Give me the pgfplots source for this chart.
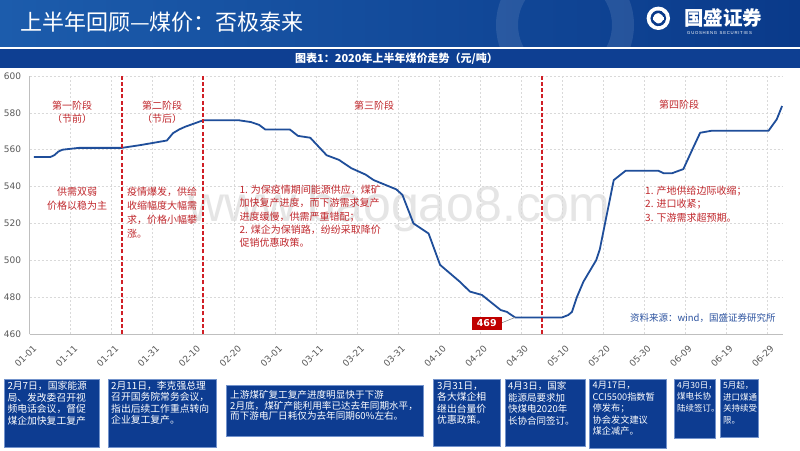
\documentclass[border=0pt]{standalone}
\usepackage{pgfplots}
\pgfplotsset{compat=1.18}
\usepackage{fontspec}
\setmainfont{Noto Sans CJK SC}
\newfontfamily\dv{DejaVu Sans}
\newfontfamily\lib{Liberation Sans}
\definecolor{hdrL}{HTML}{1C5CAC}
\definecolor{hdrR}{HTML}{0A3A8A}
\definecolor{hdrBar}{HTML}{0E3F92}
\definecolor{boxfill}{HTML}{0D3C91}
\definecolor{boxline}{HTML}{7393CC}
\definecolor{curve}{HTML}{1F4E9A}
\definecolor{redtxt}{HTML}{C0282D}
\definecolor{vred}{HTML}{D01F26}
\definecolor{labred}{HTML}{C00000}
\definecolor{gridgray}{HTML}{D9D9D9}
\definecolor{axisgray}{HTML}{BFBFBF}
\definecolor{ticktext}{HTML}{595959}
\definecolor{srcblue}{HTML}{2E54A0}
\begin{document}
\begin{tikzpicture}
\begin{scope}[x=1pt,y=1pt]
\path[use as bounding box] (0,0) rectangle (800,450);
\fill[white] (0,0) rectangle (800,450);
% header
\shade[left color=hdrL, right color=hdrR] (0,403.5) rectangle (800,450);
\begin{scope}
\clip (0,403.5) rectangle (800,450);
\draw[white, opacity=0.10, line width=22pt] (565,425) circle (58);
\end{scope}
\fill[hdrBar] (0,382) rectangle (800,401.2);
\node[anchor=west, inner sep=0, text=white, font=\fontsize{22}{26}\selectfont] at (20,427.5) {上半年回顾—煤价：否极泰来};
\fill[white] (658.3,431.7) circle (11.7);
\draw[hdrR, line width=2.6pt] (658.3,431.7) ++(60:6.5) arc (60:250:6.5);
\draw[hdrR, line width=2.6pt] (658.3,431.7) ++(240:6.5) arc (240:430:6.5);
\fill[white] (653,430.3) rectangle (663.6,433.1);
\node[anchor=west, inner sep=0, text=white, font=\fontsize{19.5}{22}\selectfont\bfseries] at (684,432) {国盛证券};
\node[anchor=west, inner sep=0, text=white, font=\lib\fontsize{4.3}{5}\selectfont] at (687,416.7) {G\,U\,O\,S\,H\,E\,N\,G\ \ S\,E\,C\,U\,R\,I\,T\,I\,E\,S};
\node[inner sep=0, text=white, font=\fontsize{11}{13}\selectfont\bfseries] at (396.5,391) {图表1：2020年上半年煤价走势（元/吨）};
% watermark
\node[anchor=base west, inner sep=0, text=black!10, font=\lib\fontsize{50}{52}\selectfont] at (188,228.3) {www.baogao8.com};
\end{scope}

\begin{axis}[
 at={(29.7pt,116pt)}, anchor=south west, scale only axis,
 width=753.6pt, height=258pt,
 xmin=0, xmax=184, ymin=460, ymax=600,
 axis x line*=bottom, axis y line*=left,
 axis line style={draw=axisgray, line width=0.8pt, -},
 xtick={0,10,...,180},
 xticklabels={01-01,01-11,01-21,01-31,02-10,02-20,03-01,03-11,03-21,03-31,04-10,04-20,04-30,05-10,05-20,05-30,06-09,06-19,06-29},
 ytick={460,480,...,600},
 grid=major, grid style={draw=gridgray, dash pattern=on 2pt off 2pt, line width=0.5pt},
 major tick length=0pt,
 tick label style={font=\dv\fontsize{9}{10}\selectfont, text=ticktext},
 /pgf/number format/assume math mode=true,
 xticklabel style={xshift=6pt, yshift=-12pt, rotate=45, anchor=east, inner sep=1pt},
 yticklabel style={xshift=-5pt},
 clip=false,
]
\coordinate (a1) at (axis cs:22.47,460);
\coordinate (a2) at (axis cs:22.47,600);
\coordinate (b1) at (axis cs:42.4,460);
\coordinate (b2) at (axis cs:42.4,600);
\coordinate (c1) at (axis cs:125.0,460);
\coordinate (c2) at (axis cs:125.0,600);
\addplot[curve, line width=1.8pt, line join=round] coordinates {
(1,556) (5,556) (6,557) (7,559) (8,560) (10,560.5) (12,561) (22.5,561) (27,562.5)
(33.5,565) (35,569) (36.5,571) (38,572.5) (42.4,576) (51,576) (54,575) (56,573.5)
(57.5,571) (63.5,571) (65.5,567.5) (68.5,566.5) (72.5,557) (75.5,554.5) (78.5,550)
(82,546.5) (84,543.5) (89.5,538.5) (91,535.5) (93.7,520) (97.4,514.5) (100.2,497.5)
(105,488.4) (107.5,483) (110.4,481.2) (115,473) (116.5,472) (118.5,469) (130,469)
(131.5,470.3) (132.4,472) (133.6,480) (135.2,488.4) (138.3,500) (139.2,506)
(142.6,543.5) (145.5,548.6) (153.5,548.6) (154.8,547.2) (156.8,547.2) (159.6,549.5)
(162.1,561.6) (163.7,569.2) (166.5,570.3) (180.4,570.3) (182.4,576.5) (183.7,583.7)};
\coordinate (l1) at (axis cs:115.3,466.1);
\coordinate (l2) at (axis cs:118.5,469);
\coordinate (lab) at (axis cs:111.6,465.8);
\end{axis}
\draw[color=vred, line width=2pt, dash pattern=on 4pt off 2.2pt, line cap=butt] (a1) -- (a2);
\draw[color=vred, line width=2pt, dash pattern=on 4pt off 2.2pt, line cap=butt] (b1) -- (b2);
\draw[color=vred, line width=2pt, dash pattern=on 4pt off 2.2pt, line cap=butt] (c1) -- (c2);
\draw[black!45, line width=0.6pt] (l1) -- (l2);
\node[fill=labred, text=white, font=\dv\bfseries\fontsize{9.5}{10}\selectfont, minimum width=30pt, minimum height=13.3pt, inner sep=0] at (lab) {469};

\begin{scope}[x=1pt,y=1pt]
% stage labels
\begin{scope}[every node/.style={inner sep=0, text=redtxt, font=\fontsize{10}{13}\selectfont}]
\node at (72,344.3) {第一阶段};
\node at (72,331) {（节前）};
\node at (162,344.3) {第二阶段};
\node at (162,331) {（节后）};
\node at (374,344) {第三阶段};
\node at (679,345) {第四阶段};
\end{scope}
\node[anchor=north, inner sep=0, align=center, text=redtxt, font=\fontsize{10}{14}\selectfont] at (77,263) {供需双弱\\价格以稳为主};
\node[anchor=north west, inner sep=0, align=left, text=redtxt, font=\fontsize{10}{13.7}\selectfont] at (127,262.7) {疫情爆发，供给\\收缩幅度大幅需\\求，价格小幅攀\\涨。};
\node[anchor=north west, inner sep=0, align=left, text=redtxt, font=\fontsize{10}{13.2}\selectfont] at (239.3,265) {1. 为保疫情期间能源供应，煤矿\\加快复产进度，而下游需求复产\\进度缓慢，供需严重错配；\\2. 煤企为保销路，纷纷采取降价\\促销优惠政策。};
\node[anchor=north west, inner sep=0, align=left, text=redtxt, font=\fontsize{10}{13.2}\selectfont] at (645,264) {1. 产地供给边际收缩；\\2. 进口收紧；\\3. 下游需求超预期。};
\node[anchor=west, inner sep=0, text=srcblue, font=\fontsize{9.5}{11}\selectfont] at (630,132.3) {资料来源：wind，国盛证券研究所};
% bottom boxes
\begin{scope}[boxst/.style={fill=boxfill, draw=boxline, line width=0.8pt},
  every node/.style={anchor=north west, inner sep=0, align=left, text=white, font=\fontsize{9.8}{11.5}\selectfont}]
\path[boxst] (4,3) rectangle (99.3,71);
\node at (7.3,69) {2月7日，国家能源\\局、发改委召开视\\频电话会议，督促\\煤企加快复工复产};
\path[boxst] (108.3,3) rectangle (216.7,71);
\node at (111,69) {2月11日，李克强总理\\召开国务院常务会议，\\指出后续工作重点转向\\企业复工复产。};
\path[boxst] (226,14) rectangle (423.3,65);
\node[font=\fontsize{9.6}{10.7}\selectfont] at (230,60) {上游煤矿复工复产进度明显快于下游\\2月底，煤矿产能利用率已达去年同期水平，\\而下游电厂日耗仅为去年同期60\%左右。};
\path[boxst] (433.3,4) rectangle (500,71);
\node at (437,68.5) {3月31日，\\各大煤企相\\继出台量价\\优惠政策。};
\path[boxst] (505,4) rectangle (585,71);
\node[font=\fontsize{9.5}{11.5}\selectfont] at (508,68.5) {4月3日，国家\\能源局要求加\\快煤电2020年\\长协合同签订。};
\path[boxst] (589.3,2) rectangle (666.7,71);
\node[font=\fontsize{9.2}{11.5}\selectfont] at (592.5,68.5) {4月17日，\\CCI5500指数暂\\停发布；\\协会发文建议\\煤企减产。};
\path[boxst] (674,12) rectangle (715,71);
\node[font=\fontsize{8.5}{11.5}\selectfont] at (677,68.5) {4月30日，\\煤电长协\\陆续签订。};
\path[boxst] (720,13) rectangle (758.3,71);
\node[font=\fontsize{8.5}{11.5}\selectfont] at (723,68.5) {5月起，\\进口煤通\\关持续受\\限。};
\end{scope}
\end{scope}
\end{tikzpicture}
\end{document}
